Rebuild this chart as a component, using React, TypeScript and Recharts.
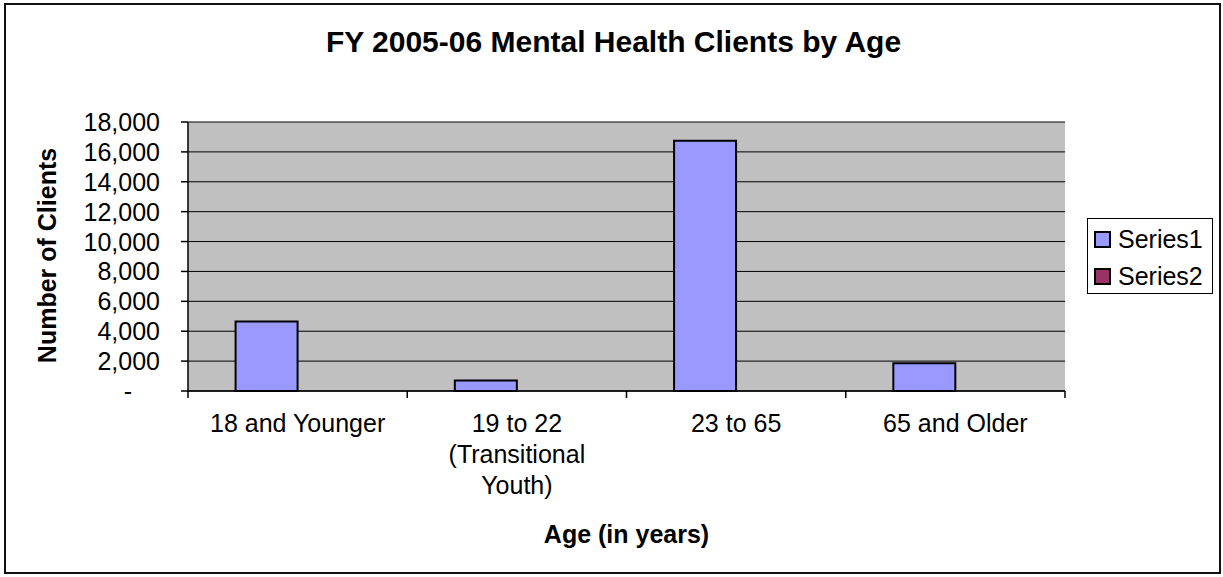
import { BarChart, Bar, XAxis, YAxis, CartesianGrid, Legend } from 'recharts';

const categories = ['18 and Younger', '19 to 22 (Transitional Youth)', '23 to 65', '65 and Older'];
const series1Values = [4650, 700, 16750, 1850];
const series2Values: (number | null)[] = [null, null, null, null];
const yTicks = [0, 2000, 4000, 6000, 8000, 10000, 12000, 14000, 16000, 18000];

const data = categories.map((name, i) => ({
  name,
  Series1: series1Values[i],
  Series2: series2Values[i],
}));

const FONT = "'Liberation Sans', Arial, sans-serif";

// wrap a category label on word boundaries, Excel style
const wrapLabel = (text: string, maxChars: number): string[] => {
  const lines: string[] = [];
  let cur = '';
  text.split(' ').forEach((w) => {
    const next = cur ? cur + ' ' + w : w;
    if (next.length > maxChars && cur) {
      lines.push(cur);
      cur = w;
    } else {
      cur = next;
    }
  });
  if (cur) lines.push(cur);
  return lines;
};

const YTick = ({ x, y, payload }: any) => {
  const v = payload.value as number;
  return (
    <text
      x={v === 0 ? x - 28 : x}
      y={y}
      dy={9}
      textAnchor="end"
      fontSize={25}
      fontFamily={FONT}
      fill="#000"
    >
      {v === 0 ? '-' : v.toLocaleString('en-US')}
    </text>
  );
};

// category label plus Excel-style tick marks on the category boundaries
const XTick = ({ x, y, payload, index, visibleTicksCount }: any) => {
  const lines = wrapLabel(payload.value, 15);
  const half = typeof payload.offset === 'number' ? payload.offset : 0;
  const last = index === visibleTicksCount - 1;
  return (
    <g>
      {half > 0 && <line x1={x - half} x2={x - half} y1={y} y2={y + 7} stroke="#000" strokeWidth={1.5} />}
      {half > 0 && last && <line x1={x + half} x2={x + half} y1={y} y2={y + 7} stroke="#000" strokeWidth={1.5} />}
      <text x={x} y={y} textAnchor="middle" fontSize={25} fontFamily={FONT} fill="#000">
        {lines.map((l, i) => (
          <tspan key={i} x={x} dy={i === 0 ? 41 : 31}>
            {l}
          </tspan>
        ))}
      </text>
    </g>
  );
};

const LegendBox = ({ payload }: any) => (
  <div
    style={{
      width: 126,
      height: 76,
      boxSizing: 'border-box',
      border: '1px solid #000',
      background: '#fff',
      paddingTop: 2,
      paddingLeft: 6,
      fontFamily: FONT,
      fontSize: 25,
      color: '#000',
    }}
  >
    {(payload || []).map((entry: any) => (
      <div key={entry.value} style={{ display: 'flex', alignItems: 'center', height: 37 }}>
        <span
          style={{
            display: 'inline-block',
            width: 17,
            height: 17,
            boxSizing: 'border-box',
            border: '2px solid #000',
            background: entry.color,
            marginRight: 7,
          }}
        />
        <span style={{ lineHeight: '37px' }}>{entry.value}</span>
      </div>
    ))}
  </div>
);

export default function App() {
  return (
    <div style={{ position: 'absolute', left: 0, top: 0, width: 1223, height: 577, background: '#fff' }}>
      <BarChart
        width={1223}
        height={577}
        data={data}
        margin={{ top: 122, right: 158, left: 0, bottom: 0 }}
        barCategoryGap="21.7%"
        barGap={0}
      >
        <CartesianGrid xAxisId="cat" vertical={false} fill="#C0C0C0" fillOpacity={1} stroke="#000" strokeWidth={1} />
        <XAxis
          xAxisId="cat"
          dataKey="name"
          height={186}
          interval={0}
          tick={<XTick />}
          tickSize={0}
          tickMargin={0}
          tickLine={false}
          axisLine={{ stroke: '#000', strokeWidth: 1.5 }}
        />
        <XAxis
          xAxisId="top"
          orientation="top"
          height={0}
          tick={false}
          tickLine={false}
          axisLine={{ stroke: '#808080', strokeWidth: 2 }}
        />
        <YAxis
          width={188}
          domain={[0, 18000]}
          ticks={yTicks}
          interval={0}
          tick={<YTick />}
          tickSize={7}
          tickMargin={21}
          tickLine={{ stroke: '#000', strokeWidth: 1.5 }}
          axisLine={{ stroke: '#000', strokeWidth: 1.5 }}
        />
        <YAxis
          yAxisId="right"
          orientation="right"
          width={0}
          tick={false}
          tickLine={false}
          axisLine={{ stroke: '#808080', strokeWidth: 2 }}
        />
        <Legend
          layout="vertical"
          align="center"
          verticalAlign="middle"
          content={<LegendBox />}
          wrapperStyle={{ left: 1087, top: 218, width: 126, height: 76 }}
        />
        <Bar xAxisId="cat" dataKey="Series1" name="Series1" fill="#9999FF" stroke="#000" strokeWidth={2} isAnimationActive={false} />
        <Bar xAxisId="cat" dataKey="Series2" name="Series2" fill="#993366" stroke="#000" strokeWidth={2} isAnimationActive={false} />
      </BarChart>
      <svg
        width={1223}
        height={577}
        style={{ position: 'absolute', left: 0, top: 0, pointerEvents: 'none' }}
      >
        <rect x={5} y={4} width={1215} height={569} fill="none" stroke="#111" strokeWidth={2} />
        <text x={613.5} y={52} textAnchor="middle" fontSize={30} fontWeight="bold" fontFamily={FONT} fill="#000">
          FY 2005-06 Mental Health Clients by Age
        </text>
        <text
          transform="translate(56,255.5) rotate(-90)"
          textAnchor="middle"
          fontSize={25}
          fontWeight="bold"
          fontFamily={FONT}
          fill="#000"
        >
          Number of Clients
        </text>
        <text x={626.5} y={543} textAnchor="middle" fontSize={25} fontWeight="bold" fontFamily={FONT} fill="#000">
          Age (in years)
        </text>
      </svg>
    </div>
  );
}
